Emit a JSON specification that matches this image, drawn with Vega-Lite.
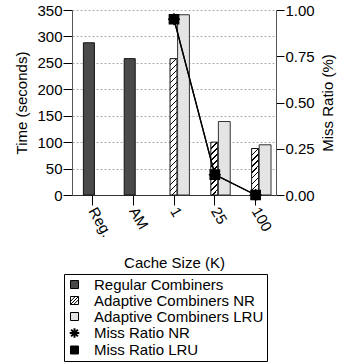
{
  "$schema": "https://vega.github.io/schema/vega-lite/v6.json",
  "autosize": "none",
  "width": 204,
  "height": 185,
  "padding": {"left": 72, "top": 10, "right": 68, "bottom": 168},
  "config": {
    "font": "Liberation Sans",
    "view": {"stroke": null},
    "axis": {"labelFont": "Liberation Sans", "titleFont": "Liberation Sans", "labelFontSize": 15, "titleFontSize": 15, "titleFontWeight": "normal", "labelColor": "#000", "titleColor": "#000", "domainColor": "#555", "tickColor": "#000"},
    "legend": {"labelFont": "Liberation Sans", "labelFontSize": 15, "labelColor": "#000", "labelLimit": 300, "title": null, "orient": "none", "legendX": -8, "legendY": 264, "strokeColor": "#000", "padding": 3, "rowPadding": -1.5, "symbolSize": 64, "symbolType": "square", "symbolStrokeColor": "#000", "symbolStrokeWidth": 1, "labelOffset": 12}
  },
  "datasets": {
    "bars": [
      {"cat": "Reg.", "series": "Regular Combiners", "time": 288},
      {"cat": "AM", "series": "Regular Combiners", "time": 258},
      {"cat": "1", "series": "Adaptive Combiners NR", "time": 258},
      {"cat": "25", "series": "Adaptive Combiners NR", "time": 100},
      {"cat": "100", "series": "Adaptive Combiners NR", "time": 88},
      {"cat": "1", "series": "Adaptive Combiners LRU", "time": 341},
      {"cat": "25", "series": "Adaptive Combiners LRU", "time": 139},
      {"cat": "100", "series": "Adaptive Combiners LRU", "time": 95}
    ],
    "miss": [
      {"cat": "1", "series": "Miss Ratio NR", "miss": 0.95},
      {"cat": "25", "series": "Miss Ratio NR", "miss": 0.11},
      {"cat": "100", "series": "Miss Ratio NR", "miss": 0.0},
      {"cat": "1", "series": "Miss Ratio LRU", "miss": 0.95},
      {"cat": "25", "series": "Miss Ratio LRU", "miss": 0.11},
      {"cat": "100", "series": "Miss Ratio LRU", "miss": 0.0}
    ]
  },
  "encoding": {
    "x": {"field": "cat", "type": "nominal", "sort": ["Reg.", "AM", "1", "25", "100"],
      "scale": {"domain": ["Reg.", "AM", "1", "25", "100"], "paddingInner": 0, "paddingOuter": 0},
      "axis": {"title": "Cache Size (K)", "labelAngle": 60, "tickSize": 10, "labelPadding": 3, "domainColor": "#333", "titlePadding": 16}}
  },
  "layer": [
    {
      "data": {"name": "bars"},
      "encoding": {
        "y": {"field": "time", "type": "quantitative", "scale": {"domain": [0, 350]},
          "axis": {"title": "Time (seconds)", "values": [0, 50, 100, 150, 200, 250, 300, 350], "tickSize": 9, "labelPadding": 1, "grid": true, "gridDash": [2, 2], "gridColor": "#aaa", "titlePadding": 7}}
      },
      "layer": [
        {"transform": [{"filter": "datum.series == 'Regular Combiners'"}],
          "mark": {"type": "bar", "width": {"band": 0.27}, "xOffset": -3.5, "stroke": "#111", "strokeWidth": 1},
          "encoding": {"fill": {"field": "series", "type": "nominal",
            "scale": {"domain": ["Regular Combiners", "Adaptive Combiners NR", "Adaptive Combiners LRU", "Miss Ratio NR", "Miss Ratio LRU"],
              "range": ["#4a4a4a", "#ffffff", "#e4e4e4", "#000000", "#000000"]},
            "legend": {"encode": {"symbols": {"update": {
              "shape": {"signal": "datum.value == 'Miss Ratio NR' ? 'M-1.2,0H1.2M0,-1.2V1.2M-0.85,-0.85L0.85,0.85M-0.85,0.85L0.85,-0.85' : datum.value == 'Adaptive Combiners NR' ? 'M-1,-1H1V1H-1ZM-1,0.2L0.2,-1M-1,1L1,-1M-0.2,1L1,-0.2' : 'square'"},
              "strokeWidth": {"signal": "datum.value == 'Miss Ratio NR' ? 2 : 1"},
              "stroke": {"value": "#000"},
              "opacity": {"value": 1}
            }}}}}}},
        {"transform": [{"filter": "datum.series == 'Adaptive Combiners NR' && datum.cat == '1'"}],
          "mark": {"type": "bar", "width": {"band": 0.17}, "xOffset": -0.5, "stroke": "#111", "strokeWidth": 1,
            "fill": {"gradient": "linear", "x1": 0, "y1": 0, "x2": 0.0538, "y2": 1.049,
              "stops": [
                {"offset": 0, "color": "#000"}, {"offset": 0.008, "color": "#000"}, {"offset": 0.008, "color": "#fff"},
                {"offset": 0.0417, "color": "#fff"}, {"offset": 0.0417, "color": "#000"}, {"offset": 0.05, "color": "#000"}, {"offset": 0.05, "color": "#fff"},
                {"offset": 0.0833, "color": "#fff"}, {"offset": 0.0833, "color": "#000"}, {"offset": 0.0917, "color": "#000"}, {"offset": 0.0917, "color": "#fff"},
                {"offset": 0.125, "color": "#fff"}, {"offset": 0.125, "color": "#000"}, {"offset": 0.1333, "color": "#000"}, {"offset": 0.1333, "color": "#fff"},
                {"offset": 0.1667, "color": "#fff"}, {"offset": 0.1667, "color": "#000"}, {"offset": 0.175, "color": "#000"}, {"offset": 0.175, "color": "#fff"},
                {"offset": 0.2083, "color": "#fff"}, {"offset": 0.2083, "color": "#000"}, {"offset": 0.2167, "color": "#000"}, {"offset": 0.2167, "color": "#fff"},
                {"offset": 0.25, "color": "#fff"}, {"offset": 0.25, "color": "#000"}, {"offset": 0.2583, "color": "#000"}, {"offset": 0.2583, "color": "#fff"},
                {"offset": 0.2917, "color": "#fff"}, {"offset": 0.2917, "color": "#000"}, {"offset": 0.3, "color": "#000"}, {"offset": 0.3, "color": "#fff"},
                {"offset": 0.3333, "color": "#fff"}, {"offset": 0.3333, "color": "#000"}, {"offset": 0.3417, "color": "#000"}, {"offset": 0.3417, "color": "#fff"},
                {"offset": 0.375, "color": "#fff"}, {"offset": 0.375, "color": "#000"}, {"offset": 0.3833, "color": "#000"}, {"offset": 0.3833, "color": "#fff"},
                {"offset": 0.4167, "color": "#fff"}, {"offset": 0.4167, "color": "#000"}, {"offset": 0.425, "color": "#000"}, {"offset": 0.425, "color": "#fff"},
                {"offset": 0.4583, "color": "#fff"}, {"offset": 0.4583, "color": "#000"}, {"offset": 0.4667, "color": "#000"}, {"offset": 0.4667, "color": "#fff"},
                {"offset": 0.5, "color": "#fff"}, {"offset": 0.5, "color": "#000"}, {"offset": 0.5083, "color": "#000"}, {"offset": 0.5083, "color": "#fff"},
                {"offset": 0.5417, "color": "#fff"}, {"offset": 0.5417, "color": "#000"}, {"offset": 0.55, "color": "#000"}, {"offset": 0.55, "color": "#fff"},
                {"offset": 0.5833, "color": "#fff"}, {"offset": 0.5833, "color": "#000"}, {"offset": 0.5917, "color": "#000"}, {"offset": 0.5917, "color": "#fff"},
                {"offset": 0.625, "color": "#fff"}, {"offset": 0.625, "color": "#000"}, {"offset": 0.6333, "color": "#000"}, {"offset": 0.6333, "color": "#fff"},
                {"offset": 0.6667, "color": "#fff"}, {"offset": 0.6667, "color": "#000"}, {"offset": 0.675, "color": "#000"}, {"offset": 0.675, "color": "#fff"},
                {"offset": 0.7083, "color": "#fff"}, {"offset": 0.7083, "color": "#000"}, {"offset": 0.7167, "color": "#000"}, {"offset": 0.7167, "color": "#fff"},
                {"offset": 0.75, "color": "#fff"}, {"offset": 0.75, "color": "#000"}, {"offset": 0.7583, "color": "#000"}, {"offset": 0.7583, "color": "#fff"},
                {"offset": 0.7917, "color": "#fff"}, {"offset": 0.7917, "color": "#000"}, {"offset": 0.8, "color": "#000"}, {"offset": 0.8, "color": "#fff"},
                {"offset": 0.8333, "color": "#fff"}, {"offset": 0.8333, "color": "#000"}, {"offset": 0.8417, "color": "#000"}, {"offset": 0.8417, "color": "#fff"},
                {"offset": 0.875, "color": "#fff"}, {"offset": 0.875, "color": "#000"}, {"offset": 0.8833, "color": "#000"}, {"offset": 0.8833, "color": "#fff"},
                {"offset": 0.9167, "color": "#fff"}, {"offset": 0.9167, "color": "#000"}, {"offset": 0.925, "color": "#000"}, {"offset": 0.925, "color": "#fff"},
                {"offset": 0.9583, "color": "#fff"}, {"offset": 0.9583, "color": "#000"}, {"offset": 0.9667, "color": "#000"}, {"offset": 0.9667, "color": "#fff"},
                {"offset": 1, "color": "#fff"}
              ]}}},
        {"transform": [{"filter": "datum.series == 'Adaptive Combiners NR' && datum.cat == '25'"}],
          "mark": {"type": "bar", "width": {"band": 0.17}, "xOffset": -0.5, "stroke": "#111", "strokeWidth": 1,
            "fill": {"gradient": "linear", "x1": 0, "y1": 0, "x2": 0.1473, "y2": 1.113,
              "stops": [
                {"offset": 0, "color": "#000"}, {"offset": 0.02, "color": "#000"}, {"offset": 0.02, "color": "#fff"},
                {"offset": 0.1, "color": "#fff"}, {"offset": 0.1, "color": "#000"}, {"offset": 0.12, "color": "#000"}, {"offset": 0.12, "color": "#fff"},
                {"offset": 0.2, "color": "#fff"}, {"offset": 0.2, "color": "#000"}, {"offset": 0.22, "color": "#000"}, {"offset": 0.22, "color": "#fff"},
                {"offset": 0.3, "color": "#fff"}, {"offset": 0.3, "color": "#000"}, {"offset": 0.32, "color": "#000"}, {"offset": 0.32, "color": "#fff"},
                {"offset": 0.4, "color": "#fff"}, {"offset": 0.4, "color": "#000"}, {"offset": 0.42, "color": "#000"}, {"offset": 0.42, "color": "#fff"},
                {"offset": 0.5, "color": "#fff"}, {"offset": 0.5, "color": "#000"}, {"offset": 0.52, "color": "#000"}, {"offset": 0.52, "color": "#fff"},
                {"offset": 0.6, "color": "#fff"}, {"offset": 0.6, "color": "#000"}, {"offset": 0.62, "color": "#000"}, {"offset": 0.62, "color": "#fff"},
                {"offset": 0.7, "color": "#fff"}, {"offset": 0.7, "color": "#000"}, {"offset": 0.72, "color": "#000"}, {"offset": 0.72, "color": "#fff"},
                {"offset": 0.8, "color": "#fff"}, {"offset": 0.8, "color": "#000"}, {"offset": 0.82, "color": "#000"}, {"offset": 0.82, "color": "#fff"},
                {"offset": 0.9, "color": "#fff"}, {"offset": 0.9, "color": "#000"}, {"offset": 0.92, "color": "#000"}, {"offset": 0.92, "color": "#fff"},
                {"offset": 1, "color": "#fff"}
              ]}}},
        {"transform": [{"filter": "datum.series == 'Adaptive Combiners NR' && datum.cat == '100'"}],
          "mark": {"type": "bar", "width": {"band": 0.17}, "xOffset": -0.5, "stroke": "#111", "strokeWidth": 1,
            "fill": {"gradient": "linear", "x1": 0, "y1": 0, "x2": 0.1694, "y2": 1.125,
              "stops": [
                {"offset": 0, "color": "#000"}, {"offset": 0.022, "color": "#000"}, {"offset": 0.022, "color": "#fff"},
                {"offset": 0.111, "color": "#fff"}, {"offset": 0.111, "color": "#000"}, {"offset": 0.133, "color": "#000"}, {"offset": 0.133, "color": "#fff"},
                {"offset": 0.222, "color": "#fff"}, {"offset": 0.222, "color": "#000"}, {"offset": 0.244, "color": "#000"}, {"offset": 0.244, "color": "#fff"},
                {"offset": 0.333, "color": "#fff"}, {"offset": 0.333, "color": "#000"}, {"offset": 0.355, "color": "#000"}, {"offset": 0.355, "color": "#fff"},
                {"offset": 0.444, "color": "#fff"}, {"offset": 0.444, "color": "#000"}, {"offset": 0.466, "color": "#000"}, {"offset": 0.466, "color": "#fff"},
                {"offset": 0.555, "color": "#fff"}, {"offset": 0.555, "color": "#000"}, {"offset": 0.577, "color": "#000"}, {"offset": 0.577, "color": "#fff"},
                {"offset": 0.666, "color": "#fff"}, {"offset": 0.666, "color": "#000"}, {"offset": 0.688, "color": "#000"}, {"offset": 0.688, "color": "#fff"},
                {"offset": 0.777, "color": "#fff"}, {"offset": 0.777, "color": "#000"}, {"offset": 0.799, "color": "#000"}, {"offset": 0.799, "color": "#fff"},
                {"offset": 0.888, "color": "#fff"}, {"offset": 0.888, "color": "#000"}, {"offset": 0.91, "color": "#000"}, {"offset": 0.91, "color": "#fff"},
                {"offset": 1, "color": "#fff"}
              ]}}},
        {"transform": [{"filter": "datum.series == 'Adaptive Combiners LRU'"}],
          "mark": {"type": "bar", "width": {"band": 0.29}, "xOffset": 9.5, "stroke": "#333", "strokeWidth": 1},
          "encoding": {"fill": {"field": "series", "type": "nominal"}}}
      ]
    },
    {
      "data": {"name": "miss"},
      "encoding": {
        "y": {"field": "miss", "type": "quantitative", "scale": {"domain": [0, 1]},
          "axis": {"orient": "right", "title": "Miss Ratio (%)", "values": [0, 0.25, 0.5, 0.75, 1], "format": ".2f", "tickSize": 8, "labelPadding": 1, "grid": false, "titleAngle": 270, "titleBaseline": "top", "titlePadding": 6}}
      },
      "layer": [
        {"mark": {"type": "line", "color": "#000", "strokeWidth": 1.3}, "encoding": {"detail": {"field": "series"}}},
        {"mark": {"type": "point", "filled": true, "size": 85, "stroke": "#000", "strokeWidth": 1.5, "opacity": 1},
          "encoding": {
            "fill": {"field": "series", "type": "nominal"},
            "shape": {"field": "series", "type": "nominal", "legend": null,
              "scale": {"domain": ["Miss Ratio NR", "Miss Ratio LRU"], "range": ["M-1.3,0H1.3M0,-1.3V1.3M-0.95,-0.95L0.95,0.95M-0.95,0.95L0.95,-0.95", "square"]}}
          }}
      ]
    }
  ],
  "resolve": {"scale": {"y": "independent"}}
}
